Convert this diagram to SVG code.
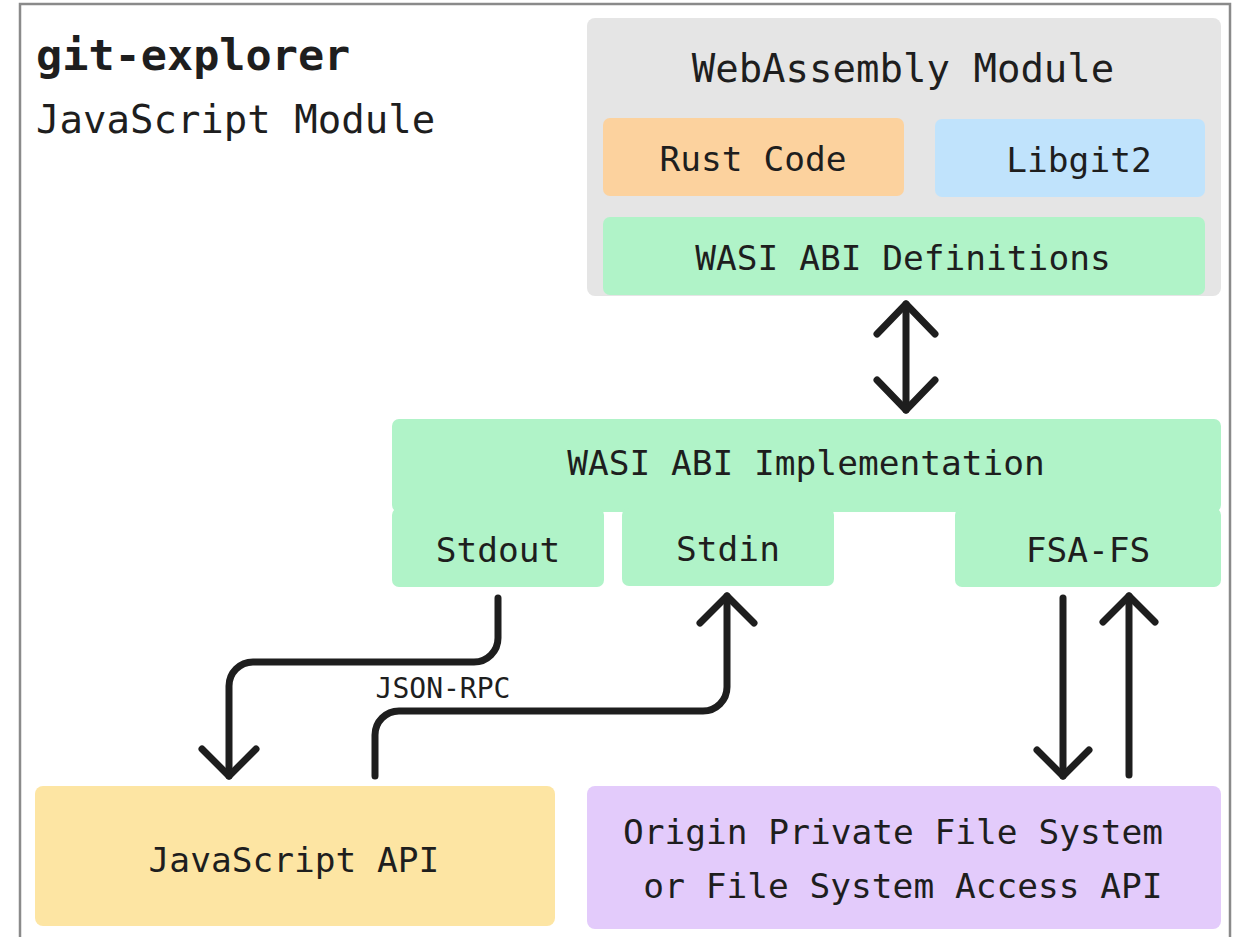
<svg xmlns="http://www.w3.org/2000/svg" width="1236" height="937" viewBox="0 0 1236 937">
  <style>
    .t { font-family: "DejaVu Sans Mono", "Liberation Mono", monospace; fill: #1e1e1e; text-anchor: middle; font-size: 34.5px; }
    .hd { font-size: 39px; }
    .wire { fill: none; stroke: #1e1e1e; stroke-width: 7; stroke-linecap: round; stroke-linejoin: round; }
    .green { fill: #b0f3c8; }
  </style>

  <rect width="1236" height="937" fill="#ffffff"/>

  <!-- outer JavaScript module frame -->
  <g id="js-module">
    <rect x="20" y="4" width="1210" height="980" fill="none" stroke="#8a8a8a" stroke-width="2.5"/>
    <text x="36" y="70" class="t" style="text-anchor:start;font-size:43.5px;font-weight:bold">git-explorer</text>
    <text x="36" y="133" class="t hd" style="text-anchor:start">JavaScript Module</text>
  </g>

  <!-- WebAssembly module and its parts -->
  <g id="wasm-module">
    <rect x="587" y="18" width="634" height="278" rx="8" fill="#e5e5e5"/>
    <text x="903" y="82" class="t hd">WebAssembly Module</text>
  </g>
  <g id="rust-code">
    <rect x="603" y="118" width="301" height="78" rx="7" fill="#fcd29e"/>
    <text x="753" y="171" class="t">Rust Code</text>
  </g>
  <g id="libgit2">
    <rect x="935" y="119" width="270" height="78" rx="7" fill="#c0e3fc"/>
    <text x="1079" y="172" class="t">Libgit2</text>
  </g>
  <g id="wasi-defs">
    <rect x="603" y="217" width="602" height="78" rx="7" class="green"/>
    <text x="903" y="270" class="t">WASI ABI Definitions</text>
  </g>

  <!-- WASI implementation with its stream endpoints -->
  <g id="wasi-impl">
    <rect x="392" y="419" width="829" height="93" rx="7" class="green"/>
    <text x="806" y="475" class="t">WASI ABI Implementation</text>
  </g>
  <g id="stdout">
    <rect x="392" y="508" width="212" height="79" rx="7" class="green"/>
    <text x="498" y="562" class="t">Stdout</text>
  </g>
  <g id="stdin">
    <rect x="622" y="508" width="212" height="78" rx="7" class="green"/>
    <text x="728" y="561" class="t">Stdin</text>
  </g>
  <g id="fsa-fs">
    <rect x="955" y="508" width="266" height="79" rx="7" class="green"/>
    <text x="1088" y="562" class="t">FSA-FS</text>
  </g>

  <!-- host-side endpoints -->
  <g id="js-api">
    <rect x="35" y="786" width="520" height="140" rx="8" fill="#fde5a3"/>
    <text x="294" y="872" class="t">JavaScript API</text>
  </g>
  <g id="file-system">
    <rect x="587" y="786" width="634" height="143" rx="8" fill="#e3cbfb"/>
    <text x="893" y="844" class="t">Origin Private File System</text>
    <text x="903" y="898" class="t">or File System Access API</text>
  </g>

  <!-- connectors -->
  <g id="connectors">
    <!-- defs <-> implementation -->
    <path class="wire" d="M906 304 V410"/>
    <polyline class="wire" points="877,334 906,304 935,334"/>
    <polyline class="wire" points="877,380 906,410 935,380"/>

    <!-- stdout -> JavaScript API -->
    <path class="wire" d="M498 598 V638 A24 24 0 0 1 474 662 H253 A24 24 0 0 0 229 686 V776"/>
    <polyline class="wire" points="202,749 229,776 256,749"/>

    <!-- JavaScript API -> stdin -->
    <path class="wire" d="M375 776 V735 A24 24 0 0 1 399 711 H703 A24 24 0 0 0 727 687 V596"/>
    <polyline class="wire" points="700,623 727,596 754,623"/>
    <text x="443" y="698" class="t" style="font-size:28px">JSON-RPC</text>

    <!-- FSA-FS <-> file system -->
    <path class="wire" d="M1063 598 V776"/>
    <polyline class="wire" points="1037,750 1063,776 1089,750"/>
    <path class="wire" d="M1129 775 V596"/>
    <polyline class="wire" points="1103,622 1129,596 1155,622"/>
  </g>
</svg>
